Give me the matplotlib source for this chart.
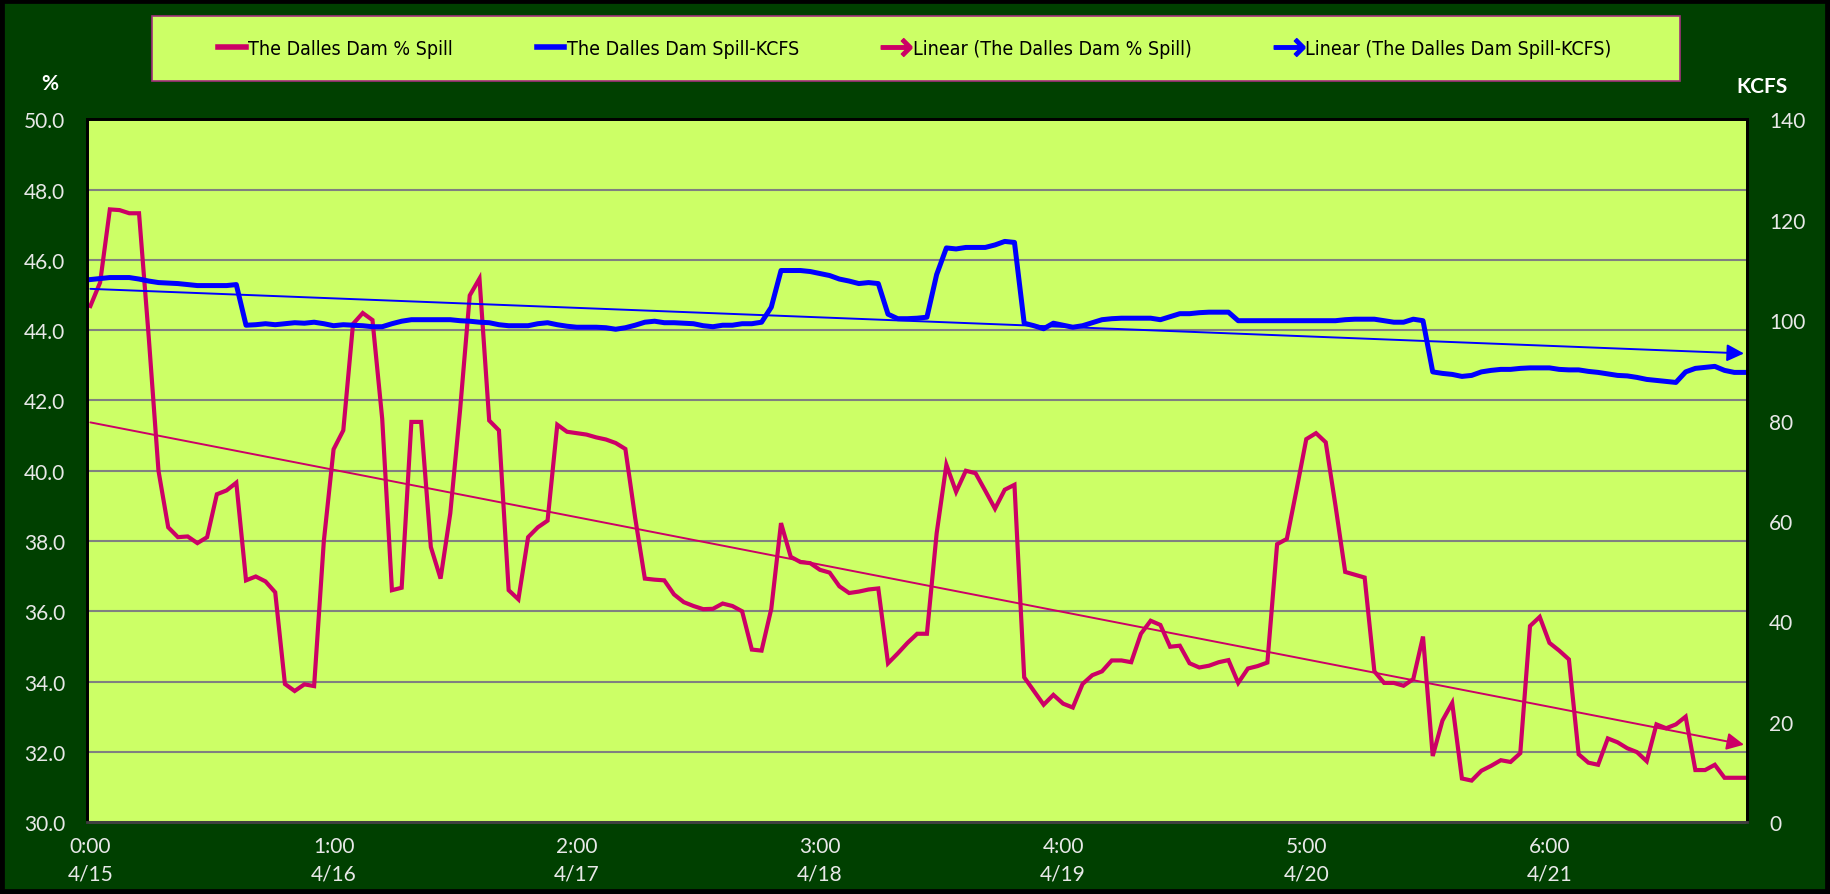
import numpy as np
import matplotlib
matplotlib.use("Agg")
import matplotlib.pyplot as plt
from matplotlib.lines import Line2D
from matplotlib.patches import Rectangle

# hourly readings, 4/15 0:00 onwards
spill_pct = [
    44.69, 45.36, 47.44, 47.42, 47.33, 47.33, 43.8, 40.0, 38.39, 38.11,
    38.13, 37.94, 38.11, 39.33, 39.44, 39.66, 36.88, 36.99, 36.85, 36.54,
    33.93, 33.73, 33.92, 33.87, 38.0, 40.61, 41.15, 44.18, 44.49, 44.29,
    41.48, 36.6, 36.67, 41.39, 41.39, 37.83, 36.93, 38.79, 41.71, 44.99,
    45.47, 41.43, 41.15, 36.6, 36.34, 38.11, 38.39, 38.58, 41.31, 41.11,
    41.07, 41.03, 40.95, 40.89, 40.79, 40.62, 38.67, 36.93, 36.9, 36.88,
    36.48, 36.26, 36.15, 36.06, 36.07, 36.22, 36.15, 36.0, 34.91, 34.88,
    36.07, 38.51, 37.55, 37.4, 37.37, 37.18, 37.1, 36.71, 36.52, 36.56,
    36.62, 36.65, 34.52, 34.8, 35.1, 35.36, 35.36, 38.22, 40.17, 39.4,
    40.0, 39.93, 39.43, 38.92, 39.46, 39.6, 34.12, 33.73, 33.34, 33.62,
    33.37, 33.26, 33.93, 34.18, 34.29, 34.6, 34.6, 34.55, 35.36, 35.73,
    35.61, 34.99, 35.02, 34.52, 34.4, 34.45, 34.55, 34.61, 33.96, 34.37,
    34.44, 34.54, 37.91, 38.06, 39.46, 40.9, 41.07, 40.81, 39.01, 37.12,
    37.04, 36.96, 34.29, 33.96, 33.96, 33.88, 34.07, 35.28, 31.88, 32.89,
    33.39, 31.24, 31.18, 31.46, 31.6, 31.76, 31.71, 31.96, 35.58, 35.84,
    35.1, 34.88, 34.63, 31.93, 31.69, 31.63, 32.38, 32.27, 32.1, 31.99,
    31.73, 32.78, 32.67, 32.78, 33.0, 31.48, 31.48, 31.63, 31.26, 31.26,
    31.26,
]

spill_kcfs = [
    108.1, 108.3, 108.5, 108.5, 108.5, 108.2, 107.8, 107.5, 107.4, 107.3,
    107.1, 106.9, 106.9, 106.9, 106.9, 107.1, 99.0, 99.1, 99.3, 99.1,
    99.3, 99.5, 99.4, 99.6, 99.3, 98.9, 99.1, 99.0, 98.9, 98.7,
    98.7, 99.3, 99.8, 100.1, 100.1, 100.1, 100.1, 100.1, 99.9, 99.8,
    99.6, 99.5, 99.1, 98.9, 98.9, 98.9, 99.3, 99.5, 99.1, 98.8,
    98.6, 98.6, 98.6, 98.5, 98.2, 98.5, 99.0, 99.6, 99.8, 99.5,
    99.5, 99.4, 99.3, 98.9, 98.7, 99.0, 99.0, 99.3, 99.3, 99.6,
    102.6, 109.9, 109.9, 109.9, 109.7, 109.3, 108.9, 108.2, 107.8, 107.3,
    107.5, 107.3, 101.2, 100.3, 100.3, 100.4, 100.6, 109.1, 114.4, 114.2,
    114.5, 114.5, 114.5, 115.0, 115.7, 115.5, 99.4, 98.9, 98.3, 99.4,
    99.0, 98.6, 98.9, 99.5, 100.1, 100.3, 100.4, 100.4, 100.4, 100.4,
    100.1, 100.7, 101.3, 101.3, 101.5, 101.6, 101.6, 101.6, 99.9, 99.9,
    99.9, 99.9, 99.9, 99.9, 99.9, 99.9, 99.9, 99.9, 99.9, 100.1,
    100.2, 100.2, 100.2, 99.9, 99.6, 99.6, 100.2, 99.9, 89.7, 89.4,
    89.2, 88.8, 89.0, 89.7, 90.0, 90.2, 90.2, 90.4, 90.5, 90.5,
    90.5, 90.2, 90.1, 90.1, 89.8, 89.6, 89.3, 89.0, 88.9, 88.6,
    88.2, 88.0, 87.8, 87.6, 89.7, 90.4, 90.6, 90.8, 90.0, 89.6,
    89.6,
]

tick_hours = [0, 25, 50, 75, 100, 125, 150]
tick_labels = ["0:00\n4/15", "1:00\n4/16", "2:00\n4/17", "3:00\n4/18",
               "4:00\n4/19", "5:00\n4/20", "6:00\n4/21"]

PINK = "#CC0066"
BLUE = "#0000FF"
DARK = "#004000"
LIME = "#CCFF66"
LABEL = "#E8E8E8"
plt.rcParams["font.family"] = ["Lato", "DejaVu Sans"]

x = np.arange(len(spill_pct))

fig = plt.figure(figsize=(18.3, 8.95), dpi=100, facecolor=DARK)
ax = fig.add_axes([0.0478, 0.0804, 0.9068, 0.785])
ax.set_facecolor(LIME)
ax2 = ax.twinx()

ax.plot(x, spill_pct, color=PINK, lw=3.0, solid_joinstyle="miter")
ax2.plot(x, spill_kcfs, color=BLUE, lw=3.6, solid_joinstyle="round")

# linear trendlines with arrow heads (least squares fit, like Excel)
for axis, y, col in [(ax, spill_pct, PINK), (ax2, spill_kcfs, BLUE)]:
    k, b = np.polyfit(x, y, 1)
    axis.annotate("", xy=(x[-1], k * x[-1] + b), xytext=(x[0], k * x[0] + b),
                  arrowprops=dict(arrowstyle="-|>", color=col, lw=1.4,
                                  mutation_scale=26, shrinkA=0, shrinkB=0))

ax.set_xlim(-0.3, len(x) - 0.7)
ax.set_ylim(30, 50)
ax.set_yticks(np.arange(30, 50.1, 2))
ax.set_yticklabels([f"{v:.1f}" for v in np.arange(30, 50.1, 2)])
ax2.set_ylim(0, 140)
ax2.set_yticks(range(0, 141, 20))
ax.set_xticks(tick_hours)
ax.set_xticklabels(tick_labels, linespacing=1.5)

ax.grid(axis="y", color="#808080", lw=1.5)
ax.set_axisbelow(True)
ax.tick_params(axis="y", length=0, pad=16, labelsize=15, labelcolor=LABEL)
ax.tick_params(axis="x", length=0, pad=10, labelsize=15, labelcolor=LABEL)
ax2.tick_params(axis="y", length=0, pad=16, labelsize=15, labelcolor=LABEL)
for a in (ax, ax2):
    for s in a.spines.values():
        s.set_color("black")
        s.set_linewidth(2)
    a.spines["bottom"].set_color("#404040")

fig.text(0.027, 0.906, "%", color="white", fontsize=15, fontweight="bold",
         ha="center", va="center")
fig.text(0.963, 0.903, "KCFS", color="white", fontsize=15, fontweight="bold",
         ha="center", va="center")

# legend box
fig.patches.append(Rectangle((0.083, 0.908), 0.835, 0.073, transform=fig.transFigure,
                             facecolor=LIME, edgecolor="#A0307A", lw=1.2, zorder=0))
handles = [
    Line2D([], [], color=PINK, lw=4),
    Line2D([], [], color=BLUE, lw=4),
    Line2D([], [], color=PINK, marker="$\u2192$", markersize=22, ls="None"),
    Line2D([], [], color=BLUE, marker="$\u2192$", markersize=22, ls="None"),
]
names = ["The Dalles Dam % Spill", "The Dalles Dam Spill-KCFS",
         "Linear (The Dalles Dam % Spill)", "Linear (The Dalles Dam Spill-KCFS)"]
fig.legend(handles, names, loc="center", bbox_to_anchor=(0.5, 0.9445), ncol=4,
           frameon=False, handlelength=1.4, handletextpad=0.15, columnspacing=4.3,
           prop={"family": ["DejaVu Sans"], "stretch": "condensed", "size": 14})

fig.patches.append(Rectangle((0, 0), 1, 1, transform=fig.transFigure,
                             fill=False, edgecolor="black", lw=7))

fig.savefig("out.png", dpi=100, facecolor=DARK)
